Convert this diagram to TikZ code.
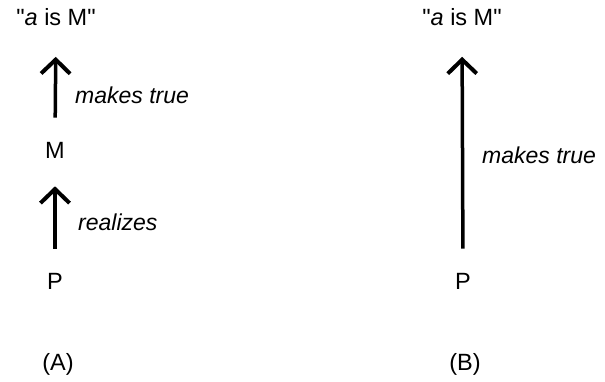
\documentclass[tikz,border=0pt]{standalone}
\usepackage{fontspec}
\setmainfont{Liberation Sans}[Ligatures=TeXOff]
\usetikzlibrary{arrows.meta}
\begin{document}
\begin{tikzpicture}[x=1pt,y=-1pt,
  txt/.style={inner sep=0pt,font=\fontsize{23.5}{28}\selectfont},
  lbl/.style={inner sep=0pt,anchor=west,font=\fontsize{23}{28}\selectfont\itshape},
  arr/.style={line width=3.5pt,-{Straight Barb[length=14pt,width=29pt,line width=4pt]}}]
\useasboundingbox (0,0) rectangle (605,382);
% (A)
\node[txt] (sa) at (56,17) {"\textit{a} is M"};
\node[txt] (ma) at (55,150) {M};
\node[txt] (pa) at (55,281) {P};
\draw[arr,shorten <=24pt,shorten >=28pt] (pa.north) -- (ma.south);
\draw[arr,shorten <=24pt,shorten >=31pt] (ma.north) -- (sa.south);
\node[lbl] (l1) at (75,95) {makes true};
\node[lbl] (l2) at (78,222) {realizes};
\node[txt] (A) at (58,364) {(A)};
% (B)
\node[txt] (sb) at (462,17) {"\textit{a} is M"};
\node[txt] (pb) at (463,281) {P};
\draw[arr,shorten <=24pt,shorten >=31pt] (pb.north) -- (sb.south);
\node[lbl] (l3) at (482,155) {makes true};
\node[txt] (B) at (465,364) {(B)};
\end{tikzpicture}
\end{document}
